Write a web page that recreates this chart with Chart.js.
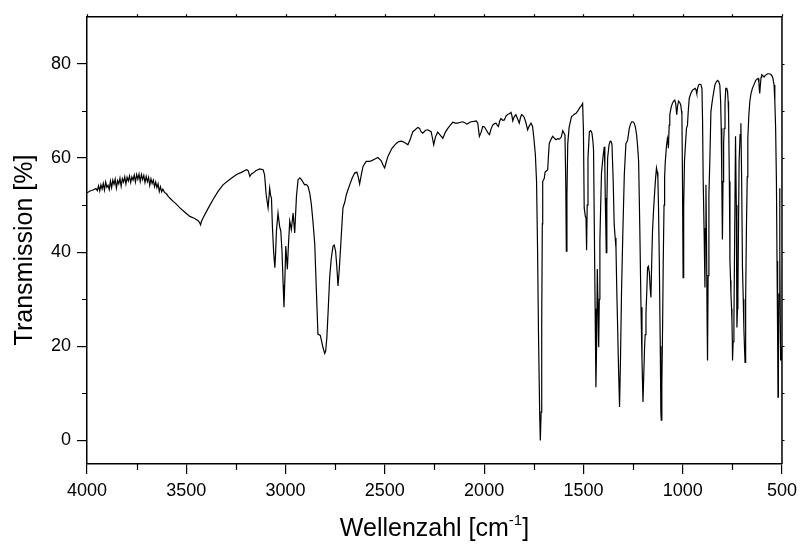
<!DOCTYPE html>
<html>
<head>
<meta charset="utf-8">
<script src="https://cdn.jsdelivr.net/npm/chart.js@4.4.0/dist/chart.umd.min.js"></script>
<style>
html,body{margin:0;padding:0;background:#fff;}
#wrap{width:803px;height:547px;}
</style>
</head>
<body>
<div id="wrap"><canvas id="c" width="803" height="547"></canvas></div>
<script>
const wavenumber = [
4000,3985,3970,3955,3948,3942,3936,3930,3924,3918,3912,3906,3900,3894,3888,3882,3876,3870,3864,3858,
3852,3846,3840,3834,3828,3822,3816,3810,3804,3798,3792,3786,3780,3774,3768,3762,3756,3750,3744,3738,
3732,3726,3720,3714,3708,3702,3696,3690,3684,3678,3672,3666,3660,3654,3648,3642,3636,3630,3624,3618,
3610,3600,3590,3578,3566,3550,3532,3510,3482,3460,3440,3432,3428,3424,3415,3390,3365,3340,3315,3280,
3247,3220,3197,3188,3180,3172,3164,3150,3130,3113,3106,3102,3098,3088,3080,3075,3071,3066,3060,3054,
3050,3046,3038,3030,3024,3018,3012,3008,3003,2999,2991,2985,2979,2971,2962,2954,2945,2937,2928,2920,
2904,2896,2887,2878,2870,2862,2853,2845,2837,2825,2818,2812,2803,2798,2792,2785,2778,2770,2761,2755,
2748,2742,2736,2730,2724,2716,2711,2702,2694,2686,2677,2665,2652,2641,2634,2627,2618,2610,2594,2580,
2568,2550,2535,2518,2508,2501,2494,2485,2465,2443,2430,2417,2400,2384,2372,2359,2350,2334,2325,2318,
2309,2295,2284,2267,2260,2254,2245,2234,2220,2208,2195,2183,2170,2158,2145,2133,2120,2108,2097,2087,
2075,2066,2052,2040,2032,2028,2024,2015,2007,1998,1990,1980,1973,1965,1957,1948,1940,1934,1928,1922,
1915,1906,1898,1890,1881,1872,1865,1860,1856,1848,1840,1832,1823,1817,1811,1804,1798,1790,1781,1772,
1764,1756,1749,1742,1736,1731,1726,1720,1717,1713,1710,1707,1705,1697,1693,1688,1680,1676,1672,1663,
1655,1646,1638,1630,1621,1612,1604,1598,1593,1589,1586,1583,1579,1572,1566,1560,1554,1546,1537,1528,
1520,1512,1504,1500,1496,1490,1487,1484,1481,1477,1470,1463,1457,1452,1449,1445,1441,1437,1433,1430,
1426,1423,1420,1417,1413,1409,1402,1395,1392,1390,1387,1385,1382,1378,1371,1365,1360,1356,1350,1345,
1340,1336,1332,1328,1323,1318,1313,1308,1301,1294,1286,1281,1277,1269,1262,1256,1250,1244,1238,1232,
1227,1222,1216,1210,1205,1200,1196,1192,1189,1185,1181,1177,1173,1168,1164,1160,1156,1152,1146,1140,
1136,1132,1128,1125,1122,1118,1113,1110,1108,1105,1101,1098,1094,1091,1088,1082,1077,1074,1072,1068,
1065,1058,1052,1046,1040,1035,1030,1026,1021,1015,1010,1006,1004,1001,998,995,991,986,981,976,
972,967,958,951,944,937,933,929,925,920,914,908,905,903,900,897,892,888,886,883,
880,877,875,872,868,863,858,853,849,844,838,831,824,818,813,809,806,803,800,797,
794,791,787,783,778,774,771,769,765,762,759,757,754,752,750,749,746,742,738,734,
730,727,724,722,719,716,711,707,703,699,695,692,689,686,683,679,675,672,667,662,
656,649,640,632,625,620,616,614,612,609,605,602,596,590,584,579,572,565,558,552,
546,540,536,532,528,525,522,520,518,515,512,510,507,504,502
];
const transmission = [
52.6,53.0,53.2,53.5,53.1,54.1,53.0,54.3,53.4,54.6,53.2,54.9,53.8,54.2,53.3,55.1,53.7,55.3,54.4,55.5,
53.6,55.2,54.5,55.7,54.0,55.6,54.9,56.0,54.5,55.9,55.1,56.2,54.8,56.0,55.3,56.4,54.9,56.5,55.5,56.6,
55.0,56.5,55.4,56.3,54.8,56.1,55.0,55.9,54.2,55.6,54.6,55.3,53.9,54.9,53.7,54.5,52.9,53.9,52.8,53.4,
52.7,52.4,51.8,51.3,50.8,50.2,49.4,48.6,47.6,47.2,46.7,46.2,45.8,46.5,47.3,49.3,51.2,52.9,54.3,55.5,
56.5,57.0,57.5,57.3,56.1,56.6,56.8,57.3,57.7,57.5,56.5,54.5,52.3,49.4,53.6,52.0,51.5,45.2,40.0,36.7,
40.0,44.5,48.3,45.5,44.5,40.2,33.0,28.3,35.0,41.3,36.4,42.0,46.6,44.8,48.3,44.1,52.0,55.4,55.8,55.4,
54.3,54.4,54.0,52.5,50.1,46.5,41.7,32.0,22.6,22.3,21.0,19.8,18.5,19.0,21.9,28.0,34.6,38.6,41.3,41.5,
40.2,37.0,32.8,36.0,40.2,46.0,49.4,50.6,52.2,53.2,54.3,55.7,56.8,57.0,56.0,54.5,56.6,58.2,59.3,59.3,
59.4,59.8,60.1,59.4,58.4,57.9,59.0,60.3,62.0,63.1,63.5,63.6,63.3,62.8,64.0,65.6,65.9,66.5,66.3,65.6,
65.3,65.9,66.0,65.6,64.2,62.8,64.5,65.5,64.8,64.2,65.5,66.3,67.0,67.6,67.4,67.4,67.6,67.7,67.5,67.2,
67.5,67.7,67.8,67.9,67.4,66.0,64.6,65.5,66.7,66.6,66.0,65.3,65.0,66.2,67.0,67.3,67.4,67.0,66.7,67.8,
68.4,68.0,68.1,68.9,69.3,69.4,69.7,69.0,67.9,68.8,69.2,68.4,67.4,68.6,69.2,69.0,68.6,67.6,66.0,66.9,
67.4,66.7,64.0,60.7,55.0,40.9,22.0,5.0,0.0,6.0,25.0,46.0,55.0,55.7,57.0,57.2,57.5,60.5,63.1,64.0,
64.6,64.2,63.9,64.1,64.0,64.4,65.8,65.3,64.9,55.0,40.2,52.0,63.0,66.5,67.7,68.8,69.0,69.3,69.5,70.0,
70.6,71.0,71.6,66.0,49.4,47.5,47.3,40.4,50.0,60.0,65.6,65.8,65.3,63.5,61.7,45.0,28.0,11.3,22.0,36.4,
28.0,19.8,30.0,42.4,50.0,56.8,60.0,62.4,58.0,51.5,45.0,39.9,50.0,60.0,62.8,63.6,63.5,62.8,55.0,45.9,
43.0,40.9,32.0,24.7,15.0,7.1,18.0,31.8,45.0,56.5,63.1,63.4,63.9,66.3,67.3,67.7,67.7,67.4,66.5,64.9,
62.5,59.3,45.0,28.3,17.0,8.2,14.0,19.8,22.5,26.9,31.5,36.7,37.0,35.7,32.5,30.4,38.0,44.5,49.5,53.6,
56.0,57.9,57.0,55.7,50.0,38.8,20.0,6.0,4.3,12.0,25.0,38.0,50.0,56.0,59.0,62.4,64.2,63.5,62.1,67.0,
69.2,70.8,71.6,72.1,72.3,71.5,69.2,71.0,72.1,71.8,71.3,70.0,69.2,55.0,34.6,50.0,59.3,63.0,66.3,67.0,
70.0,72.7,73.8,74.4,74.6,74.8,74.5,73.7,74.8,75.5,75.7,75.6,75.0,74.8,68.0,55.7,44.0,32.5,45.0,54.3,
42.0,25.0,17.0,35.0,52.2,60.0,69.8,71.5,72.7,74.0,75.5,76.2,76.5,76.2,75.5,72.0,66.3,55.0,42.7,55.0,
63.0,66.3,71.5,74.8,74.8,74.1,72.0,69.2,55.0,38.1,34.0,31.1,28.0,25.4,21.0,17.0,21.0,25.4,45.0,64.6,
50.0,24.0,28.0,31.1,45.0,59.3,65.0,67.4,55.0,36.7,30.0,24.0,20.0,16.6,30.0,45.2,56.0,64.2,69.0,72.0,
73.7,74.8,75.7,76.5,76.8,76.9,76.0,74.5,73.7,75.5,77.2,77.7,77.5,77.2,77.6,77.7,77.9,77.9,77.8,77.6,
77.0,75.5,72.0,66.3,55.0,38.1,22.0,9.2,18.0,31.1,53.6,40.0,17.0,20.0,17.0
];
const xMajorTicks = [4000,3500,3000,2500,2000,1500,1000,500];
const xMinorTicks = [3750,3250,2750,2250,1750,1250,750];
const yMajorTicks = [0,20,40,60,80];
const yMinorTicks = [10,30,50,70];
const xTitleMain = 'Wellenzahl [cm';
const xTitleSup = '-1';
const xTitleEnd = ']';
const yTitle = 'Transmission [%]';

const FONT = '"Liberation Sans", Arial, sans-serif';
const points = wavenumber.map((w,i)=>({x:w,y:transmission[i]}));

const framePlugin = {
  id:'frame',
  afterDraw(chart){
    const ctx = chart.ctx, a = chart.chartArea;
    const xs = chart.scales.x, ys = chart.scales.y;
    ctx.save();
    ctx.strokeStyle = '#000';
    ctx.lineWidth = 1.5;
    ctx.beginPath();
    ctx.moveTo(a.left, a.top); ctx.lineTo(a.right, a.top);
    ctx.moveTo(a.right, a.top); ctx.lineTo(a.right, a.bottom);
    ctx.stroke();
    ctx.lineWidth = 1.2;
    ctx.beginPath();
    xMinorTicks.forEach(v=>{const p = Math.round(xs.getPixelForValue(v))+0.5; ctx.moveTo(p,a.bottom); ctx.lineTo(p,a.bottom+6);});
    yMinorTicks.forEach(v=>{const p = Math.round(ys.getPixelForValue(v))+0.5; ctx.moveTo(a.left,p); ctx.lineTo(a.left-5,p);});
    xMajorTicks.concat(xMinorTicks).forEach(v=>{const p = Math.round(xs.getPixelForValue(v))+0.5; ctx.moveTo(p,a.top); ctx.lineTo(p,a.top-2.5);});
    yMajorTicks.concat(yMinorTicks).forEach(v=>{const p = Math.round(ys.getPixelForValue(v))+0.5; ctx.moveTo(a.right,p); ctx.lineTo(a.right+2.5,p);});
    ctx.stroke();
    ctx.fillStyle = '#000';
    const fs = 25, sfs = 15;
    ctx.font = fs+'px '+FONT;
    const w1 = ctx.measureText(xTitleMain).width;
    const w3 = ctx.measureText(xTitleEnd).width;
    ctx.font = sfs+'px '+FONT;
    const w2 = ctx.measureText(xTitleSup).width;
    const total = w1+w2+w3;
    const cx = (a.left+a.right)/2;
    const x0 = cx - total/2;
    const base = 536;
    ctx.textBaseline = 'alphabetic';
    ctx.textAlign = 'left';
    ctx.font = fs+'px '+FONT;
    ctx.fillText(xTitleMain, x0, base);
    ctx.font = sfs+'px '+FONT;
    ctx.fillText(xTitleSup, x0+w1, base-11);
    ctx.font = fs+'px '+FONT;
    ctx.fillText(xTitleEnd, x0+w1+w2, base);
    ctx.save();
    ctx.translate(32, 250);
    ctx.rotate(-Math.PI/2);
    ctx.textAlign = 'center';
    ctx.fillText(yTitle, 0, 0);
    ctx.restore();
    ctx.restore();
  }
};

new Chart(document.getElementById('c'), {
  type:'line',
  data:{datasets:[{data:points, borderColor:'#000', borderWidth:1.2, pointRadius:0, tension:0, fill:false}]},
  options:{
    responsive:false, animation:false, devicePixelRatio:1,
    parsing:false, normalized:true,
    layout:{padding:{top:15,right:20,left:0,bottom:0}},
    plugins:{legend:{display:false}, tooltip:{enabled:false}},
    scales:{
      x:{type:'linear', reverse:true, min:500, max:4000,
        afterBuildTicks:s=>{s.ticks = xMajorTicks.map(v=>({value:v}));},
        afterFit:s=>{s.height = 83;},
        grid:{display:true, drawOnChartArea:false, drawTicks:true, tickLength:10, color:'#000', lineWidth:1.2},
        border:{display:true, color:'#000', width:1.5},
        ticks:{color:'#000', font:{family:FONT, size:18}, padding:6, maxRotation:0, autoSkip:false, callback:v=>String(v)}
      },
      y:{type:'linear', min:-5, max:90,
        afterBuildTicks:s=>{s.ticks = yMajorTicks.map(v=>({value:v}));},
        afterFit:s=>{s.width = 87;},
        grid:{display:true, drawOnChartArea:false, drawTicks:true, tickLength:10, color:'#000', lineWidth:1.2},
        border:{display:true, color:'#000', width:1.5},
        ticks:{color:'#000', font:{family:FONT, size:18}, padding:6, autoSkip:false, callback:v=>String(v)}
      }
    }
  },
  plugins:[framePlugin]
});
</script>
</body>
</html>
